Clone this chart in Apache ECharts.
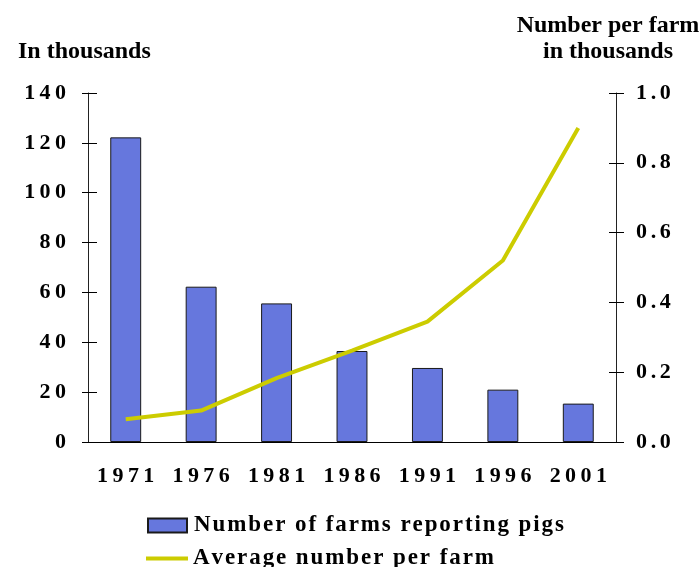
<!DOCTYPE html>
<html>
<head>
<meta charset="utf-8">
<script src="https://cdn.jsdelivr.net/npm/echarts@6/dist/echarts.min.js"></script>
<style>
  body { margin: 0; background: #fff; }
  #chart { width: 700px; height: 567px; }
</style>
</head>
<body>
<div id="chart"></div>
<script>
const years = ['1971', '1976', '1981', '1986', '1991', '1996', '2001'];
const farmsReporting = [122.2, 62.3, 55.6, 36.5, 29.7, 21.0, 15.4];
const avgPerFarm = [0.065, 0.09, 0.183, 0.262, 0.345, 0.52, 0.9];

const font = 'Liberation Serif';
// the original spreads its letters out, canvas has no letter-spacing so pad with thin spaces
const spread = (s, gap) => String(s).split('').join(gap);
const thin = (s) => spread(s, '\u2009');
const sixth = (s) => spread(s, '\u2006');
const hair = (s) => spread(s, '\u200A');

const chart = echarts.init(document.getElementById('chart'));

const labelFont = { fontFamily: font, fontWeight: 'bold', fontSize: 22, color: '#000' };

const baseY = {
  type: 'value',
  splitLine: { show: false },
  axisLine: { show: true, lineStyle: { color: '#222', width: 1 } },
  axisTick: { show: true, lineStyle: { color: '#000' } }
};

chart.setOption({
  animation: false,
  title: [
    {
      text: 'In thousands',
      left: 13, top: 35,
      textStyle: { fontFamily: font, fontWeight: 'bold', fontSize: 24, lineHeight: 24, color: '#000' }
    },
    {
      text: 'Number per farm\nin thousands',
      left: 603, top: 8,
      textAlign: 'center',
      textStyle: { fontFamily: font, fontWeight: 'bold', fontSize: 24, lineHeight: 26, color: '#000' }
    }
  ],
  grid: { left: 88, right: 84, top: 93, bottom: 125 },
  legend: [
    {
      left: 142, top: 509,
      itemWidth: 39, itemHeight: 14,
      data: [{ name: 'Number of farms reporting pigs', icon: 'rect' }],
      formatter: (n) => hair(n),
      textStyle: Object.assign({}, labelFont, { fontSize: 23, padding: [0, 0, 0, 2] })
    },
    {
      left: 141, top: 542,
      itemWidth: 42, itemHeight: 4,
      data: [{ name: 'Average number per farm', icon: 'rect' }],
      formatter: (n) => hair(n),
      textStyle: Object.assign({}, labelFont, { fontSize: 23 })
    }
  ],
  xAxis: [
    {
      type: 'category', data: years,
      axisLine: { lineStyle: { color: '#000' } },
      axisTick: { length: 7, lineStyle: { color: '#000' } },
      axisLabel: Object.assign({ margin: 23, formatter: thin }, labelFont)
    },
    {
      type: 'category', data: years, position: 'bottom',
      axisLine: { show: false },
      axisTick: { inside: true, length: 8, lineStyle: { color: '#000' } },
      axisLabel: { show: false }
    }
  ],
  yAxis: [
    Object.assign({}, baseY, {
      position: 'left', min: 0, max: 140, interval: 20,
      axisTick: { show: true, length: 6, lineStyle: { color: '#000' } },
      axisLabel: Object.assign({ margin: 22, formatter: thin }, labelFont)
    }),
    Object.assign({}, baseY, {
      position: 'right', min: 0, max: 1, interval: 0.2,
      axisTick: { show: true, length: 8, lineStyle: { color: '#000' } },
      axisLabel: Object.assign({ margin: 20, formatter: (v) => sixth(v.toFixed(1)) }, labelFont)
    }),
    Object.assign({}, baseY, {
      position: 'left', min: 0, max: 140, interval: 20,
      axisLine: { show: false },
      axisTick: { show: true, inside: true, length: 9, lineStyle: { color: '#000' } },
      axisLabel: { show: false }
    }),
    Object.assign({}, baseY, {
      position: 'right', min: 0, max: 1, interval: 0.2,
      axisLine: { show: false },
      axisTick: { show: true, inside: true, length: 7, lineStyle: { color: '#000' } },
      axisLabel: { show: false }
    })
  ],
  series: [
    {
      name: 'Number of farms reporting pigs',
      type: 'bar',
      data: farmsReporting,
      barWidth: '41%',
      itemStyle: { color: '#6677DD', borderColor: '#1a1a1a', borderWidth: 1 }
    },
    {
      name: 'Average number per farm',
      type: 'line',
      yAxisIndex: 1,
      data: avgPerFarm,
      symbol: 'none',
      lineStyle: { color: '#CCCC00', width: 4 },
      itemStyle: { color: '#CCCC00' }
    }
  ]
});
</script>
</body>
</html>
